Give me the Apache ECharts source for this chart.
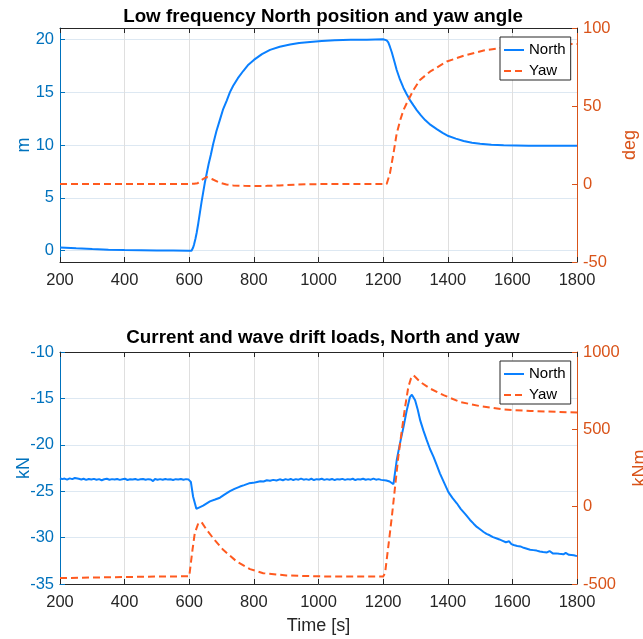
<!DOCTYPE html>
<html>
<head>
<meta charset="utf-8">
<script src="https://cdn.jsdelivr.net/npm/echarts@6/dist/echarts.min.js"></script>
<style>
html, body { margin: 0; padding: 0; background: #fff; }
#chart { width: 643px; height: 639px; }
</style>
</head>
<body>
<div id="chart"></div>
<script>
'use strict'

/*-----data-----*/
var timeTicks = [200, 400, 600, 800, 1000, 1200, 1400, 1600, 1800];
var posTicks = [0, 5, 10, 15, 20];
var degTicks = [-50, 0, 50, 100];
var kNTicks = [-35, -30, -25, -20, -15, -10];
var kNmTicks = [-500, 0, 500, 1000];

// top plot: low frequency North position [m] and yaw [deg]
var posNorth = [[200,0.3],[250,0.22],[300,0.15],[350,0.1],[400,0.06],[450,0.04],[500,0.02],[550,0.01],[600,0],[607,0],
	[612,0.3],[615,0.6],[619,1.1],[623,1.7],[628,2.6],[633,3.6],[638,4.6],[643,5.5],[648,6.4],[654,7.3],[660,8.2],
	[667,9.1],[674,10.1],[684,11.3],[695,12.4],[705,13.4],[716,14.2],[726,15.0],[736,15.6],[750,16.3],[767,17.0],
	[783,17.6],[800,18.05],[825,18.6],[850,19.0],[880,19.3],[912,19.5],[940,19.65],[974,19.75],[1010,19.85],
	[1050,19.9],[1100,19.95],[1150,19.97],[1200,20.0],[1206,19.97],[1211,19.9],[1216,19.7],[1221,19.3],[1227,18.75],
	[1234,18.0],[1242,17.1],[1252,16.2],[1263,15.4],[1273,14.8],[1283,14.25],[1294,13.75],[1304,13.3],[1317,12.8],
	[1330,12.36],[1347,11.9],[1366,11.5],[1384,11.15],[1402,10.85],[1425,10.6],[1449,10.38],[1475,10.22],[1500,10.12],
	[1535,10.03],[1573,9.97],[1650,9.94],[1800,9.93]];
var posYaw = [[200,0],[600,0],[615,0.2],[626,0.5],[638,2.5],[653,4.5],[670,3.2],[695,0.8],[715,-0.3],[736,-0.9],
	[770,-1.2],[800,-1.3],[840,-1.2],[880,-0.9],[930,-0.4],[974,-0.1],[1100,0],[1211,0],[1221,6.7],[1232,19.6],
	[1242,32.4],[1253,41],[1263,47.4],[1278,53.9],[1294,60.3],[1314,66.7],[1345,72],[1397,78.5],[1449,82.2],
	[1511,85.6],[1573,87.5],[1650,89],[1700,89.5],[1800,89.7]];

// bottom plot: current and wave drift loads, North [kN] and yaw [kNm]
var loadNorth = [[200,-23.6],[207,-23.7],[214,-23.64],[222,-23.75],[230,-23.62],[238,-23.7],[246,-23.58],[252,-23.48],
	[258,-23.66],[266,-23.74],[273,-23.66],[281,-23.78],[289,-23.68],[297,-23.74],[305,-23.67],[313,-23.76],[321,-23.7],
	[329,-23.82],[337,-23.71],[345,-23.66],[353,-23.77],[361,-23.7],[369,-23.75],[377,-23.69],[385,-23.78],[393,-23.71],
	[401,-23.66],[409,-23.79],[417,-23.72],[425,-23.74],[433,-23.68],[441,-23.78],[449,-23.72],[457,-23.69],[465,-23.77],
	[473,-23.7],[481,-23.74],[488,-23.92],[494,-23.68],[502,-23.76],[510,-23.7],[518,-23.77],[526,-23.68],[534,-23.75],
	[542,-23.71],[550,-23.79],[558,-23.7],[566,-23.74],[574,-23.68],[582,-23.77],[590,-23.7],[598,-23.75],[605,-24.0],
	[612,-25.6],[622,-26.9],[628,-27.0],[643,-26.55],[664,-26.1],[680,-25.9],[695,-25.7],[710,-25.35],[726,-25.0],
	[740,-24.75],[757,-24.5],[770,-24.35],[785,-24.15],[798,-24.1],[810,-24.0],[820,-23.92],[830,-23.95],[840,-23.82],
	[850,-23.88],[860,-23.78],[870,-23.84],[880,-23.72],[890,-23.82],[898,-23.7],[906,-23.78],[914,-23.68],[922,-23.8],
	[930,-23.7],[938,-23.76],[946,-23.64],[954,-23.76],[962,-23.7],[970,-23.78],[978,-23.66],[986,-23.8],[994,-23.7],
	[1002,-23.74],[1010,-23.66],[1018,-23.78],[1026,-23.7],[1034,-23.76],[1042,-23.68],[1050,-23.8],[1058,-23.7],
	[1066,-23.74],[1074,-23.67],[1082,-23.78],[1090,-23.7],[1098,-23.75],[1106,-23.66],[1114,-23.8],[1122,-23.7],
	[1130,-23.74],[1138,-23.66],[1146,-23.77],[1154,-23.7],[1162,-23.76],[1170,-23.64],[1178,-23.76],[1186,-23.7],
	[1194,-23.78],[1200,-23.72],[1210,-23.85],[1220,-23.95],[1232,-24.25],[1242,-21.67],[1252,-19.87],[1263,-18.09],
	[1273,-16.3],[1283,-14.86],[1289,-14.6],[1294,-14.75],[1299,-15.2],[1307,-16.2],[1315,-17.4],[1325,-18.5],
	[1335,-19.5],[1345,-20.45],[1356,-21.3],[1366,-22.2],[1376,-23.1],[1389,-24.1],[1402,-25.1],[1415,-25.75],
	[1428,-26.3],[1440,-26.9],[1455,-27.5],[1469,-28.1],[1480,-28.5],[1490,-28.85],[1500,-29.1],[1511,-29.4],
	[1520,-29.6],[1530,-29.75],[1540,-29.95],[1552,-30.1],[1560,-30.2],[1570,-30.35],[1580,-30.5],[1590,-30.4],
	[1597,-30.7],[1604,-30.8],[1615,-30.9],[1625,-30.95],[1635,-31.1],[1645,-31.2],[1655,-31.3],[1665,-31.35],
	[1675,-31.4],[1685,-31.5],[1695,-31.55],[1707,-31.6],[1715,-31.45],[1725,-31.7],[1735,-31.7],[1745,-31.75],
	[1758,-31.8],[1765,-31.65],[1775,-31.85],[1790,-31.9],[1800,-32.0]];
var loadYaw = [[200,-462],[300,-458],[400,-455],[500,-452],[600,-450],[604,-441],[610,-279],[617,-172],[628,-107],
	[638,-100],[654,-150],[674,-204],[705,-279],[747,-355],[788,-404],[829,-430],[901,-445],[1036,-452],[1200,-452],
	[1206,-430],[1216,-258],[1227,-65],[1237,129],[1247,323],[1258,495],[1268,645],[1278,774],[1286,828],[1294,850],
	[1315,806],[1345,764],[1387,721],[1438,677],[1500,650],[1573,628],[1655,619],[1800,609]];

/*-----styles-----*/
var font = 'Liberation Sans, Arial, Helvetica, sans-serif';
var dark = '#262626';
var blueAxis = '#0072BD';
var orangeAxis = '#D95319';
var blueLine = '#0A80FF';
var orangeLine = '#FF5A1F';

function plain(v) {
	return String(v);
}

function xAxes(gridIndex, withName) {
	var bottom = {
		type: 'value', gridIndex: gridIndex, position: 'bottom', min: 200, max: 1800,
		name: withName ? 'Time [s]' : '', nameLocation: 'middle', nameGap: 33,
		nameTextStyle: { color: dark, fontSize: 18, fontFamily: font },
		axisLine: { show: true, onZero: false, lineStyle: { color: dark, width: 1 } },
		axisTick: { show: true, inside: true, length: 5, customValues: timeTicks, lineStyle: { color: dark } },
		axisLabel: { show: true, margin: 10, color: dark, fontSize: 16.5, fontFamily: font, customValues: timeTicks, formatter: plain },
		splitLine: { show: true, lineStyle: { color: '#dfdfdf', width: 1 } }
	};
	var top = {
		type: 'value', gridIndex: gridIndex, position: 'top', min: 200, max: 1800,
		axisLine: { show: true, onZero: false, lineStyle: { color: dark, width: 1 } },
		axisTick: { show: true, inside: true, length: 5, customValues: timeTicks, lineStyle: { color: dark } },
		axisLabel: { show: false },
		splitLine: { show: false }
	};
	return [bottom, top];
}

function yAxis(gridIndex, side, name, min, max, ticks, nameGap) {
	var col = side === 'left' ? blueAxis : orangeAxis;
	return {
		type: 'value', gridIndex: gridIndex, position: side, min: min, max: max,
		name: name, nameLocation: 'middle', nameRotate: 90, nameGap: nameGap,
		nameMoveOverlap: side !== 'left',
		nameTextStyle: { color: col, fontSize: 18, fontFamily: font },
		axisLine: { show: true, onZero: false, lineStyle: { color: col, width: 1 } },
		axisTick: { show: true, inside: true, length: 5, customValues: ticks, lineStyle: { color: col } },
		axisLabel: { show: true, margin: 6, color: col, fontSize: 16.5, fontFamily: font, customValues: ticks, formatter: plain },
		splitLine: { show: side === 'left', lineStyle: { color: '#dde8f2', width: 1 } }
	};
}

function lineSeries(name, xi, yi, data, color, dashed) {
	return {
		name: name, type: 'line', xAxisIndex: xi, yAxisIndex: yi, data: data,
		symbol: 'none', showSymbol: false, smooth: false,
		lineStyle: { color: color, width: 2, type: dashed ? [7, 4] : 'solid' },
		itemStyle: { color: color }
	};
}

function legend(top) {
	return {
		orient: 'vertical', left: 500, top: top, data: ['North', 'Yaw'],
		backgroundColor: '#fff', borderColor: dark, borderWidth: 1, borderRadius: 0,
		padding: [4, 5, 0, 3], itemGap: 3, itemWidth: 20, itemHeight: 10,
		itemStyle: { color: 'transparent', borderWidth: 0, opacity: 0 },
		lineStyle: { width: 2 },
		textStyle: { color: '#000', fontSize: 15, fontFamily: font, lineHeight: 18 },
		selectedMode: false
	};
}

var chart = echarts.init(document.getElementById('chart'), null, { renderer: 'canvas' });
var option = {
	animation: false,
	backgroundColor: '#fff',
	title: [{
		text: 'Low frequency North position and yaw angle', left: 318, top: 2, textAlign: 'center',
		textStyle: { color: '#000', fontSize: 18.8, fontWeight: 'bold', fontFamily: font }
	}, {
		text: 'Current and wave drift loads, North and yaw', left: 318, top: 323, textAlign: 'center',
		textStyle: { color: '#000', fontSize: 18.8, fontWeight: 'bold', fontFamily: font }
	}],
	legend: [legend(37), legend(361)],
	grid: [
		{ left: 60, right: 66, top: 28, height: 234, containLabel: false, outerBoundsMode: 'none' },
		{ left: 60, right: 66, top: 352, height: 232, containLabel: false, outerBoundsMode: 'none' }
	],
	xAxis: xAxes(0, false).concat(xAxes(1, true)),
	yAxis: [
		yAxis(0, 'left', 'm', -1.07, 21.07, posTicks, 27),
		yAxis(0, 'right', 'deg', -50, 100, degTicks, 42),
		yAxis(1, 'left', 'kN', -35, -10, kNTicks, 27),
		yAxis(1, 'right', 'kNm', -500, 1000, kNmTicks, 49)
	],
	series: [
		lineSeries('North', 0, 0, posNorth, blueLine, false),
		lineSeries('Yaw', 0, 1, posYaw, orangeLine, true),
		lineSeries('North', 2, 2, loadNorth, blueLine, false),
		lineSeries('Yaw', 2, 3, loadYaw, orangeLine, true)
	]
};
chart.setOption(option);
</script>
</body>
</html>
